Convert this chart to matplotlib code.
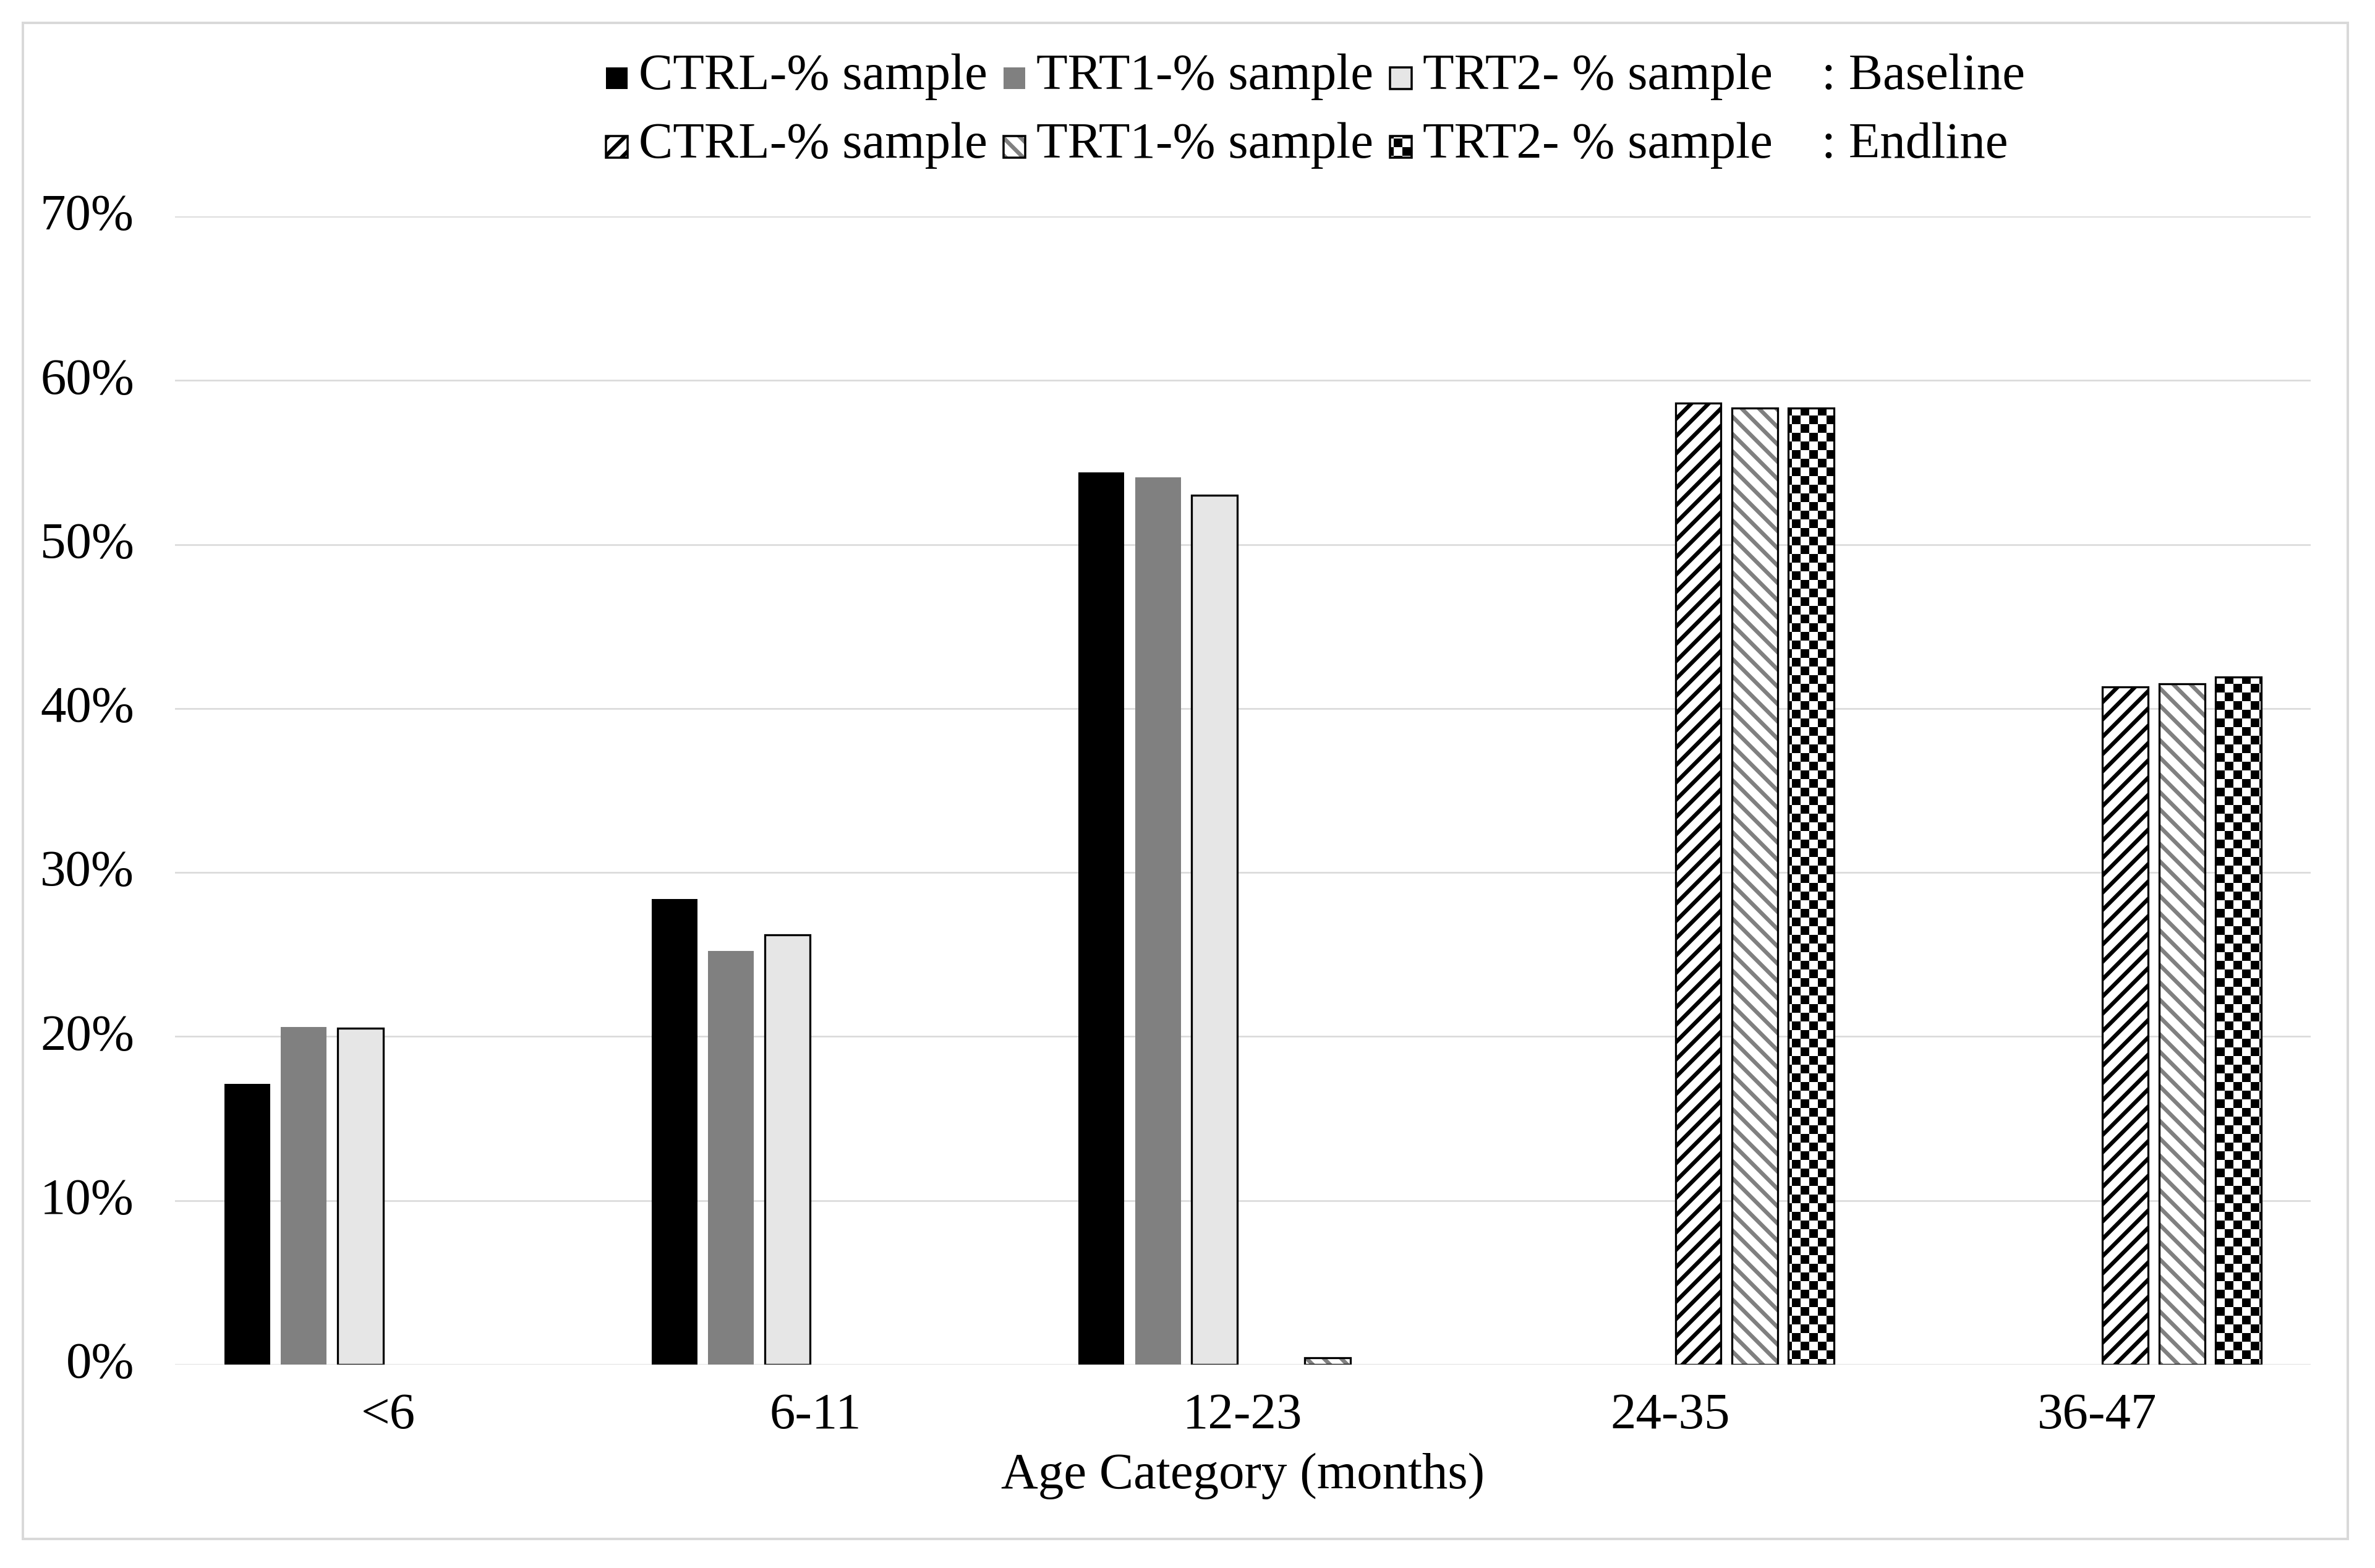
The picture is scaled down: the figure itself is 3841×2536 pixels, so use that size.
import matplotlib
matplotlib.use("Agg")
import matplotlib.pyplot as plt
import matplotlib.patches as mpatches
import matplotlib.hatch as mhatch
import matplotlib.transforms as mtransforms
from matplotlib.path import Path
from matplotlib.legend_handler import HandlerPatch, HandlerTuple
from matplotlib.ticker import PercentFormatter, MultipleLocator
import numpy as np

DPI = 168
HATCH_LW = 2.8   # pt, width of the hatch stripes
EDGE_LW = 1.4

plt.rcParams["font.family"] = ["Liberation Serif", "DejaVu Serif"]
plt.rcParams["hatch.linewidth"] = HATCH_LW

categories = ["<6", "6-11", "12-23", "24-35", "36-47"]
labels = ["CTRL-% sample", "TRT1-% sample", "TRT2- % sample"]

# share of sample in each age category (0 = nobody in that group)
baseline_ctrl = [0.171, 0.284, 0.544, 0.0, 0.0]
baseline_trt1 = [0.206, 0.252, 0.541, 0.0, 0.0]
baseline_trt2 = [0.205, 0.262, 0.530, 0.0, 0.0]
endline_ctrl = [0.0, 0.0, 0.0, 0.586, 0.413]
endline_trt1 = [0.0, 0.0, 0.004, 0.583, 0.415]
endline_trt2 = [0.0, 0.0, 0.0, 0.583, 0.419]


class CheckerHatch(mhatch.HatchPatternBase):
    """'O' in a hatch string draws a checkerboard (takes the place of big circles)."""

    def __init__(self, hatch, density):
        self.n = 12 * hatch.count("O")
        self.num_vertices = self.n * self.n // 2 * 5

    def set_vertices_and_codes(self, vertices, codes):
        step = 1.0 / self.n
        inset = HATCH_LW / 144.0   # the hatch stroke widens each square
        k = 0
        for i in range(self.n):
            for j in range(self.n):
                if (i + j) % 2:
                    continue
                x0, y0 = i * step + inset, j * step + inset
                x1, y1 = (i + 1) * step - inset, (j + 1) * step - inset
                vertices[k:k + 5] = [(x0, y0), (x1, y0), (x1, y1), (x0, y1), (x0, y0)]
                codes[k:k + 5] = [Path.MOVETO, Path.LINETO, Path.LINETO,
                                  Path.LINETO, Path.CLOSEPOLY]
                k += 5


mhatch._hatch_types = [CheckerHatch if t is mhatch.LargeCircles else t
                       for t in mhatch._hatch_types]

fig = plt.figure(figsize=(3841 / DPI, 2536 / DPI), dpi=DPI)
fig.patch.set_facecolor("white")
ax = fig.add_axes([0.07368, 0.12973, 0.97292 - 0.07368, 0.86199 - 0.12973])

x = np.arange(len(categories))
step = 0.1324
width = 0.107
offsets = (np.arange(6) - 2.5) * step


def draw(vals, offset, **kw):
    vals = np.asarray(vals, float)
    keep = vals > 0
    return ax.bar(x[keep] + offset, vals[keep], width, **kw)


draw(baseline_ctrl, offsets[0], color="black", lw=0)
draw(baseline_trt1, offsets[1], color="#808080", lw=0)
draw(baseline_trt2, offsets[2], facecolor="#e6e6e6", edgecolor="black", lw=EDGE_LW)
draw(endline_ctrl, offsets[3], facecolor="white", edgecolor="black", hatch="//", lw=EDGE_LW)
# grey stripes with a black outline: stripes first, outline on top
draw(endline_trt1, offsets[4], facecolor="white", edgecolor="#808080", hatch="\\\\", lw=0)
draw(endline_trt1, offsets[4], fill=False, edgecolor="black", lw=EDGE_LW)
draw(endline_trt2, offsets[5], facecolor="white", edgecolor="black", hatch="O", lw=EDGE_LW)

ax.set_xlim(-0.5, len(categories) - 0.5)
ax.set_ylim(0, 0.70)
ax.yaxis.set_major_locator(MultipleLocator(0.10))
ax.yaxis.set_major_formatter(PercentFormatter(1.0, decimals=0))
ax.set_xticks(x)
ax.set_xticklabels(categories)
ax.yaxis.grid(True, color="#d9d9d9", lw=1.1)
ax.set_axisbelow(True)
for s in ax.spines.values():
    s.set_visible(False)
ax.tick_params(length=0, labelsize=35.5, colors="black")
ax.tick_params(axis="y", pad=28.3)
ax.tick_params(axis="x", pad=19.5)
ax.set_xlabel("Age Category (months)", fontsize=35.5, labelpad=9.4)

lift = mtransforms.ScaledTranslation(0, 3.2 / 72, fig.dpi_scale_trans)
for lab in ax.get_yticklabels():
    lab.set_transform(lab.get_transform() + lift)


# legend: small squares, 3 series x (baseline, endline) + the row captions
def square_handle(legend, orig_handle, xdescent, ydescent, width, height, fontsize):
    s = 0.42 * fontsize
    return mpatches.Rectangle((-xdescent, 0), s, s)


LEG_LW = 1.5
h_cb = mpatches.Rectangle((0, 0), 1, 1, facecolor="black", edgecolor="none", lw=0)
h_tb = mpatches.Rectangle((0, 0), 1, 1, facecolor="#808080", edgecolor="none", lw=0)
h_2b = mpatches.Rectangle((0, 0), 1, 1, facecolor="#e6e6e6", edgecolor="black", lw=LEG_LW)
h_ce = mpatches.Rectangle((0, 0), 1, 1, facecolor="white", edgecolor="black", hatch="//", lw=LEG_LW)
h_te = (mpatches.Rectangle((0, 0), 1, 1, facecolor="white", edgecolor="#808080", hatch="\\\\", lw=0),
        mpatches.Rectangle((0, 0), 1, 1, fill=False, edgecolor="black", lw=LEG_LW))
h_2e = mpatches.Rectangle((0, 0), 1, 1, facecolor="white", edgecolor="black", hatch="O", lw=LEG_LW)
blank = mpatches.Rectangle((0, 0), 1, 1, visible=False)

handles = [h_cb, h_ce, h_tb, h_te, h_2b, h_2e, blank, blank]
leg_labels = [labels[0], labels[0], labels[1], labels[1], labels[2], labels[2],
              ": Baseline", ": Endline"]
fig.legend(handles, leg_labels, loc="upper left", bbox_to_anchor=(980 / 3841, 0.966),
           bbox_transform=fig.transFigure, ncol=4, frameon=False, borderpad=0,
           borderaxespad=0, handlelength=0.42, handleheight=0.7, handletextpad=0.22,
           columnspacing=0.32, labelspacing=0.42, fontsize=35.5,
           handler_map={mpatches.Rectangle: HandlerPatch(patch_func=square_handle),
                        tuple: HandlerTuple(ndivide=1, pad=0)})

# light grey frame round the whole picture
fig.add_artist(mpatches.Rectangle((0.00963, 0.01853), 0.98854 - 0.00963, 0.98541 - 0.01853,
                                  transform=fig.transFigure, fill=False,
                                  edgecolor="#d9d9d9", lw=1.7))

fig.savefig("out.png", dpi=DPI, facecolor="white")
plt.close(fig)
